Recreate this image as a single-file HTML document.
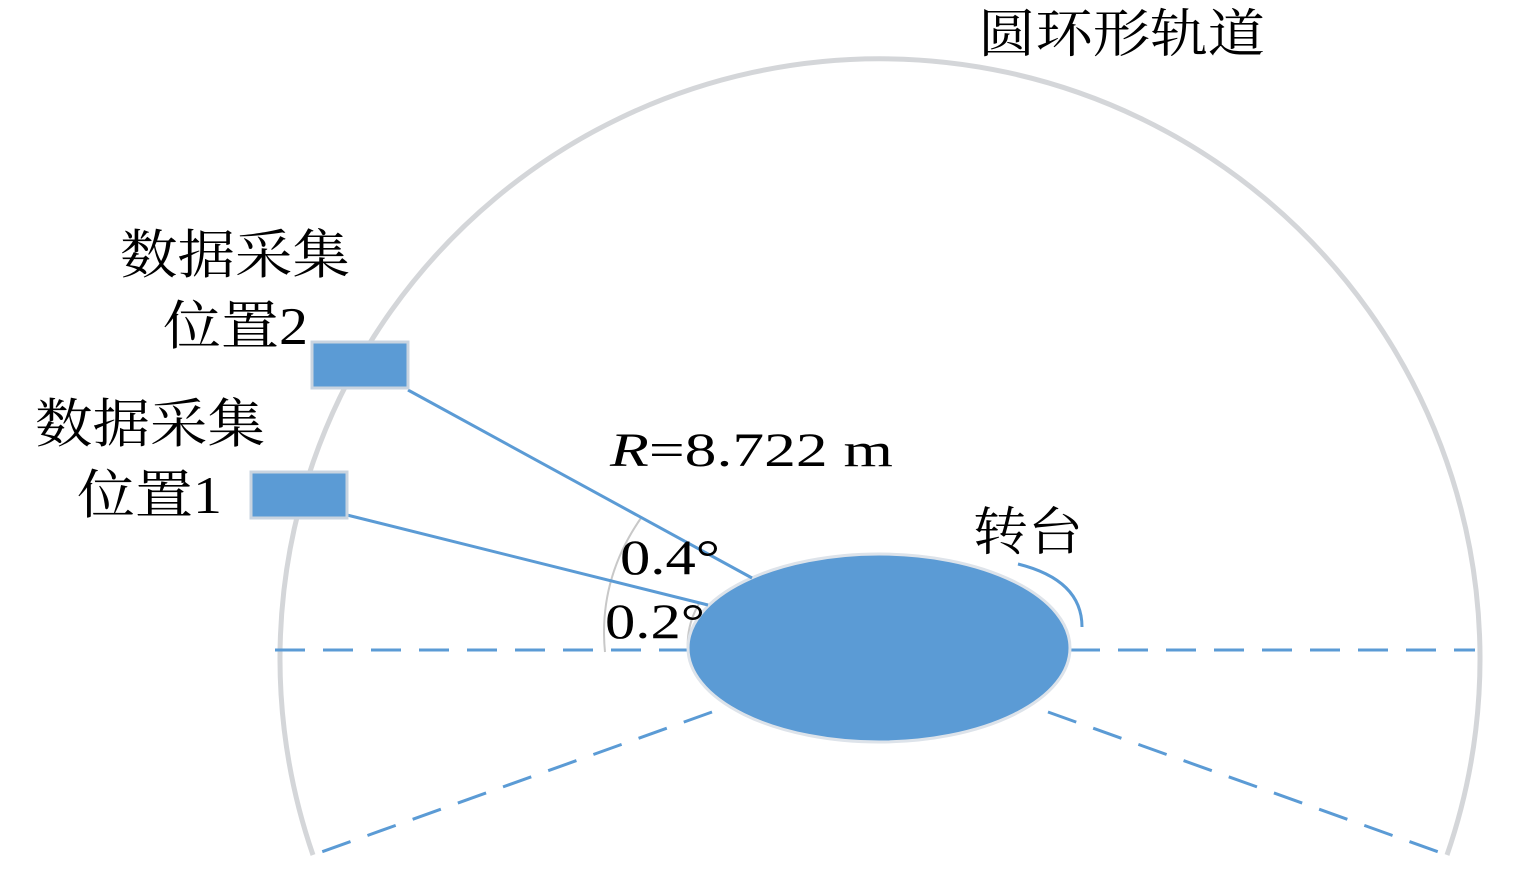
<!DOCTYPE html>
<html><head><meta charset="utf-8"><style>
html,body{margin:0;padding:0;background:#fff;}
svg{display:block}
text{font-family:"Liberation Serif","Noto Serif CJK SC",serif;fill:#000}
</style></head><body>
<svg width="1534" height="879" viewBox="0 0 1534 879">
<path d="M313,855 A600,600 0 1 1 1447,855" fill="none" stroke="#d4d6d9" stroke-width="5"/>
<g stroke="#5b9bd5" stroke-width="3" stroke-dasharray="30,18" fill="none">
<line x1="275" y1="650" x2="688" y2="650"/>
<line x1="1070" y1="650" x2="1475" y2="650"/>
<line x1="712" y1="712" x2="313" y2="855"/>
<line x1="1048" y1="712" x2="1447" y2="855"/>
</g>
<path d="M641,518 Q598,580 605,652" fill="none" stroke="#c8c8c8" stroke-width="2"/>
<path d="M700,602 Q686,625 688,650" fill="none" stroke="#c8c8c8" stroke-width="2"/>
<ellipse cx="879" cy="648" rx="191" ry="94" fill="#5b9bd5" stroke="#dde3ea" stroke-width="3"/>
<line x1="408" y1="390" x2="752" y2="578" stroke="#5b9bd5" stroke-width="3"/>
<line x1="347" y1="515" x2="708" y2="605" stroke="#5b9bd5" stroke-width="3"/>
<path d="M1018,564 Q1082,580 1082,627" fill="none" stroke="#5b9bd5" stroke-width="3"/>
<rect x="312" y="342" width="96" height="46" fill="#5b9bd5" stroke="#c9d4e0" stroke-width="3"/>
<rect x="251" y="472" width="96" height="46" fill="#5b9bd5" stroke="#c9d4e0" stroke-width="3"/>
<text x="978" y="52" font-size="52" textLength="287" lengthAdjust="spacingAndGlyphs">圆环形轨道</text>
<text x="120" y="273" font-size="53" textLength="230" lengthAdjust="spacingAndGlyphs">数据采集</text>
<text x="163" y="344" font-size="53" textLength="145" lengthAdjust="spacingAndGlyphs">位置2</text>
<text x="35" y="442" font-size="53" textLength="230" lengthAdjust="spacingAndGlyphs">数据采集</text>
<text x="77" y="513" font-size="53" textLength="145" lengthAdjust="spacingAndGlyphs">位置1</text>
<text x="610" y="466" font-size="48" textLength="283" lengthAdjust="spacingAndGlyphs"><tspan font-style="italic">R</tspan>=8.722 m</text>
<text x="620" y="574" font-size="50" textLength="100" lengthAdjust="spacingAndGlyphs">0.4°</text>
<text x="605" y="638" font-size="50" textLength="100" lengthAdjust="spacingAndGlyphs">0.2°</text>
<text x="973" y="550" font-size="52" textLength="110" lengthAdjust="spacingAndGlyphs">转台</text>
</svg>
</body></html>
